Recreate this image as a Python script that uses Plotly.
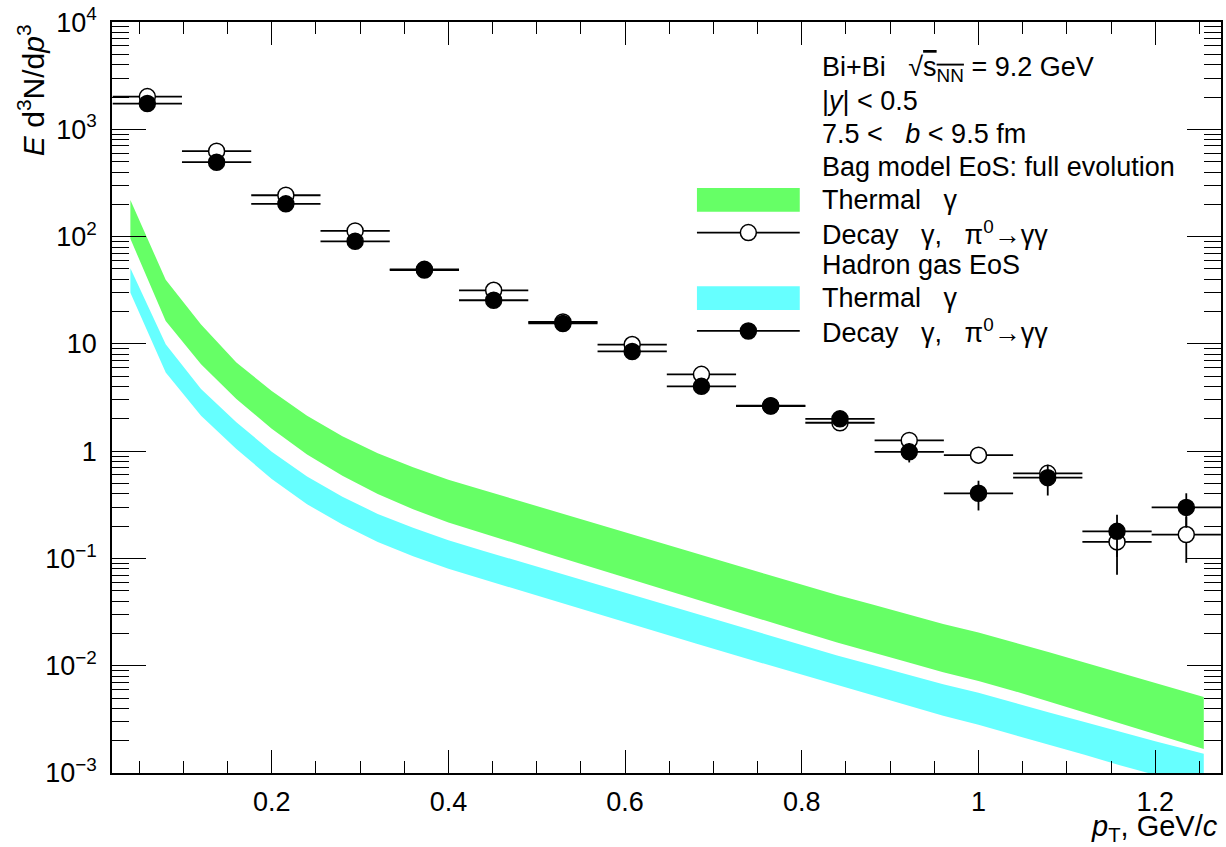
import plotly.graph_objects as go

# ---------------- data ----------------
# pT bin centres (GeV/c) and bin half-width of the decay-photon histograms
pt_bins = [0.0592, 0.1376, 0.2160, 0.2944, 0.3728, 0.4512, 0.5296, 0.6080,
           0.6864, 0.7648, 0.8432, 0.9216, 1.0000, 1.0784, 1.1568, 1.2352]
bin_half_width = 0.0392

# Decay photons (pi0 -> gamma gamma), Bag model EoS (open circles)
decay_bag = [2020, 626, 243, 113, 49.5, 31.6, 16.0, 9.86,
             5.2, 2.65, 1.84, 1.26, 0.918, 0.621, 0.1426, 0.167]
decay_bag_err = [0, 0, 0, 0, 0, 0, 0, 0, 0, 0, 0, 0.08, 0.15, 0.1, 0.072, 0.076]

# Decay photons (pi0 -> gamma gamma), Hadron gas EoS (filled circles)
decay_hg = [1740, 494, 202, 90.4, 48.8, 25.5, 15.5, 8.5,
            4.02, 2.63, 2.0, 0.985, 0.405, 0.566, 0.179, 0.299]
decay_hg_err = [0, 0, 0, 0, 0, 0, 0, 0, 0, 0, 0, 0.2, 0.125, 0.18, 0.076, 0.106]

# Thermal photon bands: pT grid and lower / upper edges
pt_band = [0.04, 0.08, 0.12, 0.16, 0.20, 0.24, 0.28, 0.32, 0.36, 0.40, 0.44, 0.48,
           0.52, 0.56, 0.60, 0.64, 0.68, 0.72, 0.76, 0.80, 0.84, 0.88, 0.92, 0.96,
           1.00, 1.04, 1.08, 1.12, 1.16, 1.20, 1.255]

thermal_bag_hi = [219, 39.6, 15.2, 6.71, 3.63, 2.14, 1.38, 0.955, 0.708, 0.542, 0.432,
                  0.344, 0.275, 0.219, 0.175, 0.140, 0.111, 0.0891, 0.0711, 0.0569,
                  0.0457, 0.0372, 0.0302, 0.0245, 0.0204, 0.0166, 0.01334, 0.01072,
                  0.00857, 0.00687, 0.00512]
thermal_bag_lo = [95.5, 16.3, 6.47, 3.07, 1.62, 0.933, 0.589, 0.398, 0.288, 0.216, 0.170,
                  0.135, 0.106, 0.0841, 0.0665, 0.0526, 0.0416, 0.033, 0.0261, 0.0207,
                  0.0165, 0.0133, 0.01076, 0.00871, 0.00721, 0.00582, 0.00462, 0.00367,
                  0.0029, 0.0023, 0.00167]

thermal_hg_hi = [50.8, 9.91, 3.80, 1.86, 0.989, 0.582, 0.376, 0.260, 0.193, 0.148, 0.1175,
                 0.0938, 0.0748, 0.0597, 0.0476, 0.038, 0.0303, 0.0243, 0.0194, 0.0155,
                 0.01245, 0.01016, 0.00828, 0.00673, 0.0056, 0.00457, 0.00367, 0.00299,
                 0.00242, 0.00198, 0.00151]
thermal_hg_lo = [29.9, 5.42, 2.14, 1.05, 0.55, 0.32, 0.207, 0.142, 0.105, 0.08, 0.0634,
                 0.0504, 0.0402, 0.0319, 0.0254, 0.0202, 0.0161, 0.01285, 0.01023, 0.00817,
                 0.00653, 0.00527, 0.00425, 0.00341, 0.00281, 0.00229, 0.00184, 0.00148,
                 0.00118, 0.00096, 0.000724]

x_tick_vals = [0.2, 0.4, 0.6, 0.8, 1.0, 1.2]
x_tick_text = ["0.2", "0.4", "0.6", "0.8", "1", "1.2"]
y_tick_vals = [1e-3, 1e-2, 1e-1, 1, 10, 1e2, 1e3, 1e4]
y_tick_text = ["10<sup>\u22123</sup>", "10<sup>\u22122</sup>", "10<sup>\u22121</sup>", "1",
               "10", "10<sup>2</sup>", "10<sup>3</sup>", "10<sup>4</sup>"]

legend_lines = [
    "Bi+Bi   \u221A<span style='text-decoration:overline'>s<sub>NN</sub></span> = 9.2 GeV",
    "|<i>y</i>| < 0.5",
    "7.5 <   <i>b</i> < 9.5 fm",
    "Bag model EoS: full evolution",
    "Thermal   \u03b3",
    "Decay   \u03b3,   \u03c0<sup>0</sup>\u2192\u03b3\u03b3",
    "Hadron gas EoS",
    "Thermal   \u03b3",
    "Decay   \u03b3,   \u03c0<sup>0</sup>\u2192\u03b3\u03b3",
]

# ---------------- styling ----------------
GREEN = "#66ff66"
CYAN = "#66ffff"
FONT = "Liberation Sans, Arial, sans-serif"
W, H = 1226, 847
L, R, T, B = 112, 1223, 17, 773


def px(x):
    return (x - L) / (R - L)


def py(y):
    return (B - y) / (B - T)


fig = go.Figure()

# thermal photon bands
for lo, hi, col in [(thermal_bag_lo, thermal_bag_hi, GREEN),
                    (thermal_hg_lo, thermal_hg_hi, CYAN)]:
    fig.add_trace(go.Scatter(
        x=pt_band + pt_band[::-1], y=hi + lo[::-1],
        fill="toself", fillcolor=col, mode="lines",
        line=dict(width=0, color=col), hoverinfo="skip", showlegend=False))

# decay photon points
for vals, errs, fill in [(decay_bag, decay_bag_err, "white"),
                         (decay_hg, decay_hg_err, "black")]:
    fig.add_trace(go.Scatter(
        x=pt_bins, y=vals, mode="markers",
        marker=dict(symbol="circle", size=16, color=fill,
                    line=dict(color="black", width=1.5)),
        error_x=dict(type="constant", value=bin_half_width, width=0,
                     thickness=1.8, color="black"),
        error_y=dict(type="data", array=errs, width=0,
                     thickness=1.8, color="black"),
        showlegend=False))

# legend block
ann = []
y_line = 64
for txt in legend_lines:
    ann.append(dict(x=px(821), y=py(y_line), xref="paper", yref="paper",
                    text=txt, showarrow=False, xanchor="left", yanchor="middle",
                    font=dict(family=FONT, size=27, color="black")))
    y_line += 33

shapes = []
for yc, col in [(196, GREEN), (295, CYAN)]:
    shapes.append(dict(type="rect", xref="paper", yref="paper",
                       x0=px(698), x1=px(801), y0=py(yc + 12), y1=py(yc - 12),
                       fillcolor=col, line=dict(width=0)))
for yc, fill in [(229, "white"), (328, "black")]:
    shapes.append(dict(type="line", xref="paper", yref="paper",
                       x0=px(698), x1=px(801), y0=py(yc), y1=py(yc),
                       line=dict(color="black", width=1.8)))
    shapes.append(dict(type="circle", xref="paper", yref="paper",
                       xsizemode="pixel", ysizemode="pixel",
                       xanchor=px(749.5), yanchor=py(yc),
                       x0=-8, x1=8, y0=-8, y1=8,
                       fillcolor=fill, line=dict(color="black", width=1.5)))

# axis titles
ann.append(dict(x=px(1222), y=py(828), xref="paper", yref="paper",
                text="<i>p</i><sub>T</sub>, GeV/<i>c</i>", showarrow=False,
                xanchor="right", yanchor="middle",
                font=dict(family=FONT, size=29, color="black")))
ann.append(dict(x=px(31), y=py(17), xref="paper", yref="paper",
                text="<i>E</i> d<sup>3</sup>N/d<i>p</i><sup>3</sup>", showarrow=False,
                textangle=-90, xanchor="center", yanchor="top",
                font=dict(family=FONT, size=30, color="black")))

y_minor = [k * 10.0 ** e for e in range(-3, 4) for k in range(2, 10)]

fig.update_layout(
    width=W, height=H,
    margin=dict(l=L, r=W - R, t=T, b=H - B, pad=0),
    paper_bgcolor="white", plot_bgcolor="white",
    font=dict(family=FONT, size=26, color="black"),
    annotations=ann, shapes=shapes,
    xaxis=dict(range=[0.0192, 1.2745], tickmode="array",
               tickvals=x_tick_vals, ticktext=x_tick_text,
               ticks="inside", ticklen=23, tickwidth=1.3, tickcolor="black",
               showline=True, linecolor="black", linewidth=1.6, mirror="ticks",
               showgrid=False, zeroline=False, ticklabelstandoff=4,
               ticklabeloverflow="allow",
               tickfont=dict(family=FONT, size=27, color="black"),
               minor=dict(ticks="inside", ticklen=12, tickwidth=1.3,
                          tickcolor="black", dtick=0.05, tick0=0, showgrid=False)),
    yaxis=dict(type="log", range=[-3, 4.0005], tickmode="array",
               tickvals=y_tick_vals, ticktext=y_tick_text,
               ticks="inside", ticklen=34, tickwidth=1.3, tickcolor="black",
               showline=True, linecolor="black", linewidth=1.6, mirror="ticks",
               showgrid=False, zeroline=False, ticklabelstandoff=8,
               ticklabeloverflow="allow",
               tickfont=dict(family=FONT, size=27, color="black"),
               minor=dict(ticks="inside", ticklen=17, tickwidth=1.3,
                          tickcolor="black", tickmode="array", tickvals=y_minor,
                          showgrid=False)),
)

fig.write_html("out.html")
